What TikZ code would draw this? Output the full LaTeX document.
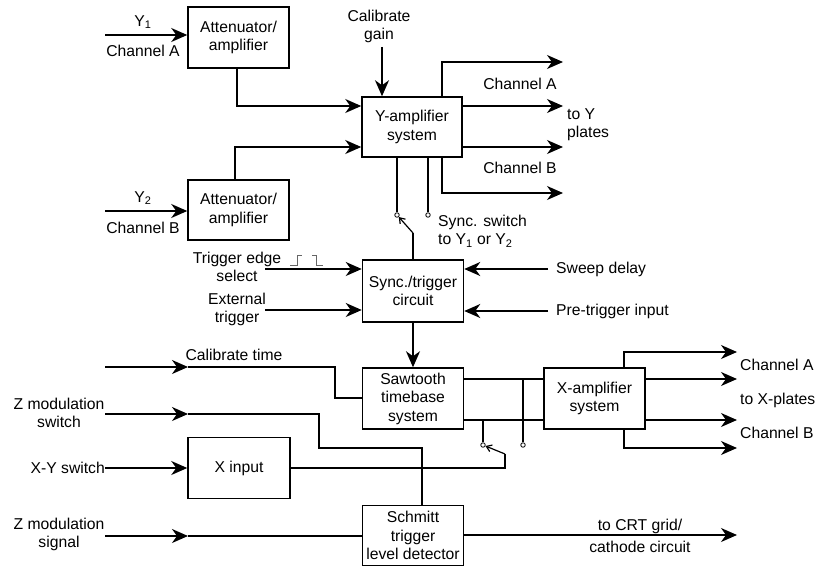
\documentclass[tikz,border=0pt]{standalone}
\usepackage{fontspec}
\setmainfont{Liberation Sans}
\usetikzlibrary{arrows.meta}
\begin{document}
\begin{tikzpicture}[x=1pt,y=-1pt,
  every node/.style={font=\fontsize{15.7}{18.5}\selectfont},
  blk/.style={draw,line width=1.5pt,minimum width=101pt,minimum height=61pt,inner sep=0pt,align=center},
  wire/.style={line width=1.5pt},
  arr/.style={wire,-{Stealth[length=16pt,width=14pt,inset=5pt]}},
  lbl/.style={align=center,inner sep=0pt},
  term/.style={circle,draw,fill=white,inner sep=0pt,minimum size=4.5pt,line width=0.8pt},
  swarm/.style={line width=1.2pt,-{Straight Barb[length=5pt,width=7pt]}},
  pulse/.style={line width=0.8pt,black!60}]
\useasboundingbox (0,0) rectangle (826,567);

% blocks
\node[blk] (attA) at (238.5,37.5) {Attenuator/\\amplifier};
\node[blk,minimum height=60pt] (attB) at (238.5,210) {Attenuator/\\amplifier};
\node[blk,minimum width=100pt,minimum height=60pt] (yamp) at (412,127) {Y-amplifier\\system};
\node[blk,minimum height=62pt] (sync) at (413,291) {Sync./trigger\\circuit};
\node[blk] (saw) at (413,398.5) {Sawtooth\\timebase\\system};
\node[blk,minimum width=102pt] (xin) at (239,468) {X input};
\node[blk] (xamp) at (594.5,398.5) {X-amplifier\\system};
\node[blk,minimum height=60pt] (schm) at (413,535.5) {Schmitt\\trigger\\level detector};

% Y inputs
\coordinate (iY1) at (105,35);
\draw[arr] (iY1) -- (attA.west |- iY1);
\node[lbl] (lY1) at (143,22) {Y\textsubscript{1}};
\node[lbl] (lChA) at (143,51) {Channel A};
\coordinate (iY2) at (105,211);
\draw[arr] (iY2) -- (attB.west |- iY2);
\node[lbl] (lY2) at (143,198) {Y\textsubscript{2}};
\node[lbl] (lChB) at (143,228) {Channel B};

\draw[arr] (attA.south -| 237,0) |- (yamp.west |- 0,106);
\draw[arr] (attB.north -| 235,0) |- (yamp.west |- 0,147);

% calibrate gain
\node[lbl] (lcal) at (379,26.5) {Calibrate\\gain};
\coordinate (cg) at (382,47);
\draw[arr] (cg) -- (yamp.north -| cg);

% Y outputs
\coordinate (yo1) at (563,62);
\coordinate (yo2) at (563,106);
\coordinate (yo3) at (563,147);
\coordinate (yo4) at (563,193);
\draw[arr] (yamp.north -| 442,0) |- (yo1);
\draw[arr] (yamp.east |- yo2) -- (yo2);
\draw[arr] (yamp.east |- yo3) -- (yo3);
\draw[arr] (yamp.south -| 442,0) |- (yo4);
\node[lbl] (lYA) at (520,84) {Channel A};
\node[lbl,anchor=west,align=left] (lYP) at (567,124.5) {to Y\\plates};
\node[lbl] (lYB) at (520,168) {Channel B};

% sync switch
\node[term] (tY1) at (397,215) {};
\node[term] (tY2) at (428,215) {};
\draw[wire] (yamp.south -| tY1) -- (tY1.north);
\draw[wire] (yamp.south -| tY2) -- (tY2.north);
\coordinate (pY) at (413,233);
\draw[swarm] (pY) -- (tY1);
\draw[wire] (pY) -- (sync.north -| pY);
\node[lbl,anchor=west,align=left] (lsw) at (438,231) {Sync. switch\\to Y\textsubscript{1} or Y\textsubscript{2}};

% sync inputs
\coordinate (iTE) at (265,269);
\coordinate (iET) at (265,310);
\coordinate (iSD) at (548,269);
\coordinate (iPT) at (548,311);
\draw[arr] (iTE) -- (sync.west |- iTE);
\draw[arr] (iET) -- (sync.west |- iET);
\draw[arr] (iSD) -- (sync.east |- iSD);
\draw[arr] (iPT) -- (sync.east |- iPT);
\node[lbl] (lTE) at (237,267) {Trigger edge\\select};
\node[lbl] (lET) at (237,309.5) {External\\trigger};
\node[lbl,anchor=west] (lSD) at (556,269) {Sweep delay};
\node[lbl,anchor=west] (lPT) at (556,311) {Pre-trigger input};
\draw[pulse] (290,265) -- (297,265) -- (297,255) -- (302,255);
\draw[pulse] (312,255) -- (316,255) -- (316,265) -- (323,265);

\draw[arr] (sync.south) -- (saw.north);

% calibrate time
\coordinate (iCT) at (105,367);
\coordinate (mCT) at (188,367);
\draw[arr] (iCT) -- (mCT);
\draw[wire] (mCT) -| (335,398) -- (saw.west |- 0,398);
\node[lbl] (lCT) at (234,355) {Calibrate time};

% Z modulation switch
\coordinate (iZS) at (105,414);
\coordinate (mZS) at (188,414);
\draw[arr] (iZS) -- (mZS);
\draw[wire] (mZS) -| (319,448) -| (schm.north -| 422,0);
\node[lbl] (lZS) at (59,413) {Z modulation\\switch};

% X-Y switch
\coordinate (iXY) at (105,468);
\draw[arr] (iXY) -- (xin.west);
\node[lbl,anchor=east] (lXY) at (105,468) {X-Y switch};

% sawtooth to X amp
\draw[wire] (saw.east |- 0,379) -- (xamp.west |- 0,379);
\draw[wire] (saw.east |- 0,420) -- (xamp.west |- 0,420);
\node[term] (tX1) at (483,445) {};
\node[term] (tX2) at (523,445) {};
\draw[wire] (tX1.north) -- (tX1 |- 0,420);
\draw[wire] (tX2.north) -- (tX2 |- 0,379);
\coordinate (pX) at (505,454);
\draw[wire] (xin.east) -| (pX);
\draw[swarm] (pX) -- (tX1);

% X outputs
\coordinate (xo1) at (737,352);
\coordinate (xo2) at (737,379);
\coordinate (xo3) at (737,420);
\coordinate (xo4) at (737,448);
\draw[arr] (xamp.north -| 624,0) |- (xo1);
\draw[arr] (xamp.east |- xo2) -- (xo2);
\draw[arr] (xamp.east |- xo3) -- (xo3);
\draw[arr] (xamp.south -| 624,0) |- (xo4);
\node[lbl,anchor=west] (lXA) at (740,365) {Channel A};
\node[lbl,anchor=west] (lXP) at (740,400) {to X-plates};
\node[lbl,anchor=west] (lXB) at (740,433) {Channel B};

% Z modulation signal
\coordinate (iZG) at (105,536);
\coordinate (mZG) at (188,536);
\draw[arr] (iZG) -- (mZG);
\draw[wire] (mZG) -- (schm.west |- mZG);
\node[lbl] (lZG) at (59,534.5) {Z modulation\\signal};

% Schmitt output
\coordinate (so) at (737,535);
\draw[arr] (schm.east |- so) -- (so);
\node[lbl] (lCRT) at (640,535.5) {to CRT grid/\\[3.5pt]cathode circuit};
\end{tikzpicture}
\end{document}
